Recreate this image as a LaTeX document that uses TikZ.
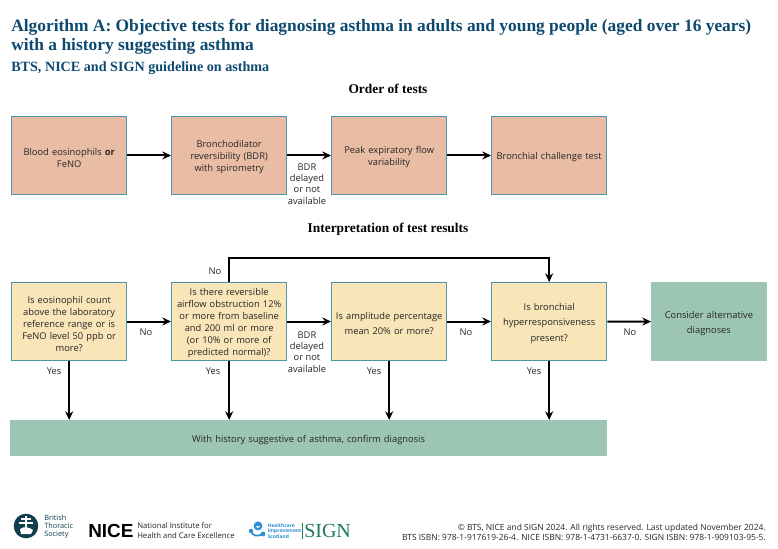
\documentclass[tikz,border=0pt]{standalone}
\usepackage{fontspec}
\setmainfont{Open Sans}
\newfontfamily\ttl{Liberation Serif}
\newfontfamily\bodyf{Open Sans}
\newfontfamily\nicef{Liberation Sans}
\usetikzlibrary{arrows.meta}
\definecolor{salmon}{HTML}{E8BDA4}
\definecolor{cream}{HTML}{F8E5B8}
\definecolor{teal}{HTML}{9CC6B3}
\definecolor{edgeb}{HTML}{4E93A6}
\definecolor{navy}{HTML}{0E4A70}
\definecolor{logod}{HTML}{0F3F4C}
\definecolor{signg}{HTML}{1C7A55}
\definecolor{hisb}{HTML}{2C8FD0}
\tikzset{
  x=0.75pt,y=-0.75pt,
  txt/.style={font=\bodyf\fontsize{7}{9}\selectfont,align=center,text=black!85,inner sep=0pt},
  lab/.style={font=\bodyf\fontsize{7}{8.5}\selectfont,align=center,text=black!85,inner sep=0pt},
  down/.style={execute at begin node={\rule{0pt}{8.4pt}}},
  wide/.style={font=\bodyf\fontsize{7}{11.8}\selectfont},
  testbox/.style={draw=edgeb,line width=0.75pt,fill=salmon,minimum width=86.5pt,minimum height=58.5pt,txt,text width=80pt,anchor=north west,down},
  qbox/.style={draw=edgeb,line width=0.75pt,fill=cream,minimum width=86.5pt,minimum height=58.5pt,txt,text width=84pt,anchor=north west,down},
  flow/.style={draw=black,line width=1.5pt,-{Stealth[length=6.5pt,width=6pt]}},
  head/.style={font=\ttl\bfseries\fontsize{10.05}{12}\selectfont,text=black,inner sep=0pt},
  ttlstyle/.style={font=\ttl\bfseries\fontsize{13.05}{15}\selectfont,text=navy,inner sep=0pt,anchor=west}
}
\begin{document}
\begin{tikzpicture}
\useasboundingbox (0,0) rectangle (778,549);
\fill[white] (0,0) rectangle (778,549);
\node[ttlstyle] (t1) at (11,27) {Algorithm A: Objective tests for diagnosing asthma in adults and young people (aged over 16 years)};
\node[ttlstyle] (t2) at (11,46) {with a history suggesting asthma};
\node[ttlstyle,font=\ttl\bfseries\fontsize{10.6}{13}\selectfont] (t3) at (11,68) {BTS, NICE and SIGN guideline on asthma};
\node[head] (h1) at (388,88.5) {Order of tests};
\node[head] (h2) at (388,229.5) {Interpretation of test results};

\node[testbox] (a1) at (11,116) {Blood eosinophils {\bfseries or}\\FeNO};
\node[testbox] (a2) at (171,116) {Bronchodilator\\reversibility (BDR)\\with spirometry};
\node[testbox] (a3) at (331,116) {Peak expiratory flow\\variability};
\node[testbox] (a4) at (491,116) {Bronchial challenge test};
\draw[flow] (a1) -- (a2);
\draw[flow] (a2) -- (a3);
\draw[flow] (a3) -- (a4);
\node[lab] (l1) at (307,184) {BDR\\delayed\\or not\\available};

\node[qbox] (q1) at (11,282) {Is eosinophil count\\above the laboratory\\reference range or is\\FeNO level 50 ppb or\\more?};
\node[qbox] (q2) at (171,282) {Is there reversible\\airflow obstruction 12\%\\or more from baseline\\and 200 ml or more\\(or 10\% or more of\\predicted normal)?};
\node[qbox,wide] (q3) at (331,282) {Is amplitude percentage\\mean 20\% or more?};
\node[qbox,wide] (q4) at (491,282) {Is bronchial\\hyperresponsiveness\\present?};
\node[fill=teal,minimum width=86.5pt,minimum height=59pt,txt,wide,text width=70pt,anchor=north west,down] (q5) at (651,282) {Consider alternative\\diagnoses};
\node[fill=teal,minimum width=447.5pt,minimum height=27pt,txt,text width=400pt,anchor=north west,down] (bar) at (10,420) {With history suggestive of asthma, confirm diagnosis};

\draw[flow] (q1) -- (q2);
\draw[flow] (q2) -- (q3);
\draw[flow] (q3) -- (q4);
\draw[flow] (q4) -- (q5);
\node[lab] (n1) at (146,332) {No};
\node[lab] (n2) at (466,332) {No};
\node[lab] (n3) at (630,332) {No};
\node[lab] (l2) at (307,352) {BDR\\delayed\\or not\\available};

\coordinate (c1) at (q2.north |- 0,258);
\coordinate (c2) at (q4.north |- 0,258);
\draw[flow] (q2.north) -- (c1) -- (c2) -- (q4.north);
\node[lab] (no4) at (215,271) {No};

\draw[flow] (q1.south) -- (q1.south |- bar.north);
\draw[flow] (q2.south) -- (q2.south |- bar.north);
\draw[flow] (q3.south) -- (q3.south |- bar.north);
\draw[flow] (q4.south) -- (q4.south |- bar.north);
\node[lab] (y1) at (54,371) {Yes};
\node[lab] (y2) at (213,371) {Yes};
\node[lab] (y3) at (374,371) {Yes};
\node[lab] (y4) at (534,371) {Yes};

% logos
\fill[logod] (26,526) circle (12.3);
\draw[white,line width=0.8pt] (26,516) -- (26,530) (21,519) -- (31,519) (19,523) -- (33,523);
\fill[white] (20,529) .. controls (24,526) and (29,527) .. (33,530) -- (31,534) -- (21,534) -- cycle;
\node[inner sep=0pt,anchor=west,align=left,font=\bodyf\fontsize{5.5}{6}\selectfont,text=logod] (bts) at (44,527) {British\\Thoracic\\Society};
\node[inner sep=0pt,anchor=west,font=\nicef\bfseries\fontsize{14.2}{15}\selectfont,text=black] (nice) at (88,531) {NICE};
\node[inner sep=0pt,anchor=west,align=left,font=\bodyf\fontsize{5.8}{7}\selectfont,text=black!85] (nt) at (137,530.5) {National Institute for\\Health and Care Excellence};
\draw[hisb,line width=1.7pt] (258,526) circle (3.2);
\fill[hisb] (251,531) circle (2.2) (263,534) circle (2.4) (258,524) circle (2.4);
\draw[hisb,line width=1.3pt] (251,531) .. controls (252,536) and (258,537) .. (263,534);
\node[inner sep=0pt,anchor=west,align=left,font=\bodyf\bfseries\fontsize{3.7}{4.3}\selectfont,text=hisb] (hist) at (267.5,531) {Healthcare\\Improvement\\Scotland};
\draw[signg,line width=0.6pt] (302,523) -- (302,539);
\node[inner sep=0pt,anchor=west,font=\ttl\fontsize{15}{16}\selectfont,text=signg] (sign) at (304,531) {SIGN};
\node[inner sep=0pt,anchor=east,font=\bodyf\fontsize{6.35}{6.6}\selectfont,text=black!85] (f1) at (766,528) {© BTS, NICE and SIGN 2024. All rights reserved. Last updated November 2024.};
\node[inner sep=0pt,anchor=east,font=\bodyf\fontsize{6.35}{6.6}\selectfont,text=black!85] (f2) at (766,537) {BTS ISBN: 978-1-917619-26-4. NICE ISBN: 978-1-4731-6637-0. SIGN ISBN: 978-1-909103-95-5.};
\end{tikzpicture}
\end{document}
